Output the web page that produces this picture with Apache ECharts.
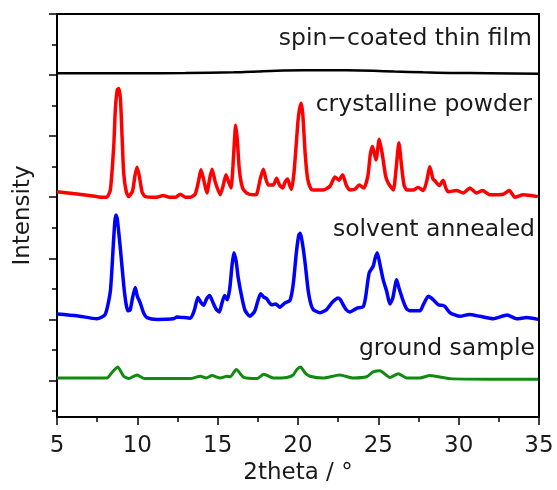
<!DOCTYPE html>
<html>
<head>
<meta charset="utf-8">
<script src="https://cdn.jsdelivr.net/npm/echarts@6/dist/echarts.min.js"></script>
<style>
html,body{margin:0;padding:0;background:#fff;}
#chart{width:557px;height:490px;}
</style>
</head>
<body>
<div id="chart"></div>
<script>
// Values (x: 2theta in degrees, y: offset intensity in arbitrary units)
const seriesNames = ['spin\u2212coated thin film', 'crystalline powder', 'solvent annealed', 'ground sample'];
const xTicks = [5, 10, 15, 20, 25, 30, 35];
const yMajorTicks = [0, 1, 2, 3, 4, 5, 6];
const yMinorTicks = [-0.5, 0.5, 1.5, 2.5, 3.5, 4.5, 5.5];

const thinFilm = [
  [5, 5.03], [10, 5.03], [13, 5.035], [16, 5.045], [17.5, 5.06], [19.1, 5.075], [21.6, 5.08],
  [23, 5.078], [24.7, 5.07], [26, 5.058], [27.8, 5.045], [29.5, 5.035], [31.9, 5.03], [35, 5.02]
];

const crystallinePowder = [
  [5, 3.09], [6, 3.06], [7, 3.03], [7.8, 3.0], [8.1, 3.0], [8.32, 3.12], [8.53, 3.83],
  [8.63, 4.43], [8.75, 4.76], [8.85, 4.78], [8.95, 4.6], [9.05, 4.0], [9.15, 3.4],
  [9.31, 3.09], [9.46, 3.01], [9.7, 3.1], [9.85, 3.35], [9.98, 3.49], [10.12, 3.35],
  [10.3, 3.08], [10.5, 3.01], [11.2, 3.0], [11.6, 3.03], [12.0, 3.0], [12.4, 3.0],
  [12.67, 3.05], [13.0, 3.0], [13.3, 3.0], [13.6, 3.05], [13.8, 3.25], [13.96, 3.45],
  [14.12, 3.3], [14.33, 3.07], [14.5, 3.3], [14.65, 3.46], [14.85, 3.25], [15.16, 3.04],
  [15.35, 3.2], [15.52, 3.37], [15.68, 3.25], [15.83, 3.15], [15.95, 3.5], [16.05, 3.95],
  [16.12, 4.18], [16.22, 3.95], [16.35, 3.45], [16.55, 3.15], [16.8, 3.07], [17.2, 3.04],
  [17.43, 3.05], [17.65, 3.3], [17.84, 3.46], [18.0, 3.3], [18.15, 3.2], [18.46, 3.2],
  [18.67, 3.31], [18.85, 3.2], [19.04, 3.15], [19.2, 3.25], [19.35, 3.3], [19.5, 3.18],
  [19.6, 3.13], [19.75, 3.4], [19.9, 3.9], [20.0, 4.25], [20.1, 4.45], [20.2, 4.54],
  [20.3, 4.35], [20.45, 3.7], [20.6, 3.3], [20.8, 3.14], [20.95, 3.12], [21.57, 3.12],
  [21.99, 3.18], [22.3, 3.33], [22.55, 3.28], [22.78, 3.37], [23.0, 3.2], [23.23, 3.12],
  [23.54, 3.13], [23.81, 3.2], [24.1, 3.15], [24.35, 3.35], [24.5, 3.7], [24.64, 3.83],
  [24.85, 3.61], [25.06, 3.95], [25.25, 3.7], [25.45, 3.35], [25.62, 3.23], [25.93, 3.12],
  [26.1, 3.45], [26.28, 3.89], [26.45, 3.5], [26.6, 3.2], [26.76, 3.12], [27.17, 3.12],
  [27.48, 3.16], [27.8, 3.11], [28.0, 3.25], [28.21, 3.5], [28.4, 3.3], [28.52, 3.27],
  [28.79, 3.19], [29.04, 3.28], [29.2, 3.15], [29.35, 3.09], [29.87, 3.11], [30.28, 3.07],
  [30.7, 3.15], [31.11, 3.07], [31.49, 3.11], [31.94, 3.04], [32.77, 3.05], [33.15, 3.11],
  [33.5, 3.0], [34.02, 3.04], [34.93, 3.01]
];

const solventAnnealed = [
  [5, 1.09], [6.24, 1.06], [7.49, 1.01], [8.0, 1.08], [8.32, 1.46], [8.5, 2.2], [8.6, 2.6],
  [8.67, 2.71], [8.75, 2.65], [8.94, 2.17], [9.15, 1.57], [9.3, 1.25], [9.42, 1.14],
  [9.55, 1.15], [9.7, 1.35], [9.87, 1.52], [10.0, 1.38], [10.18, 1.27], [10.4, 1.1],
  [10.6, 1.03], [11.22, 1.0], [12.26, 1.01], [12.47, 1.04], [13.3, 1.02], [13.55, 1.15],
  [13.77, 1.36], [13.95, 1.28], [14.13, 1.23], [14.3, 1.33], [14.5, 1.39], [14.7, 1.28],
  [14.9, 1.17], [15.1, 1.12], [15.25, 1.25], [15.43, 1.39], [15.6, 1.32], [15.75, 1.5],
  [15.9, 1.9], [16.01, 2.09], [16.15, 1.95], [16.28, 1.68], [16.49, 1.38], [16.7, 1.15],
  [17.0, 1.05], [17.3, 1.13], [17.5, 1.3], [17.67, 1.42], [17.85, 1.37], [18.04, 1.34],
  [18.2, 1.28], [18.35, 1.24], [18.62, 1.25], [18.87, 1.2], [19.19, 1.27], [19.5, 1.31],
  [19.7, 1.57], [19.9, 2.1], [20.05, 2.38], [20.15, 2.41], [20.3, 2.2], [20.43, 1.95],
  [20.64, 1.46], [20.8, 1.25], [20.95, 1.16], [21.37, 1.11], [21.78, 1.16], [22.1, 1.27],
  [22.3, 1.32], [22.5, 1.35], [22.65, 1.32], [22.81, 1.24], [23.0, 1.16], [23.23, 1.12],
  [23.65, 1.18], [24.06, 1.21], [24.2, 1.35], [24.43, 1.76], [24.68, 1.87], [24.8, 2.0],
  [24.93, 2.09], [25.1, 1.9], [25.3, 1.65], [25.52, 1.46], [25.72, 1.25], [25.9, 1.35],
  [26.14, 1.65], [26.3, 1.5], [26.55, 1.3], [26.75, 1.18], [26.97, 1.14], [27.59, 1.14],
  [27.8, 1.24], [28.11, 1.38], [28.3, 1.35], [28.42, 1.32], [28.73, 1.24], [29.0, 1.23],
  [29.15, 1.21], [29.46, 1.11], [30.08, 1.05], [30.66, 1.08], [31.32, 1.05], [32.15, 1.01],
  [33.02, 1.07], [33.6, 1.01], [34.23, 1.03], [34.95, 1.0]
];

const groundSample = [
  [5, 0.04], [8.11, 0.04], [8.42, 0.13], [8.78, 0.22], [9.15, 0.07], [9.46, 0.03],
  [9.98, 0.09], [10.44, 0.03], [13.3, 0.03], [13.92, 0.07], [14.29, 0.04], [14.65, 0.08],
  [15.16, 0.04], [15.58, 0.07], [15.78, 0.06], [16.16, 0.18], [16.62, 0.05], [17.45, 0.03],
  [17.87, 0.1], [18.49, 0.04], [19.3, 0.05], [19.7, 0.09], [19.93, 0.18], [20.16, 0.22],
  [20.45, 0.12], [20.74, 0.07], [21.57, 0.04], [22.6, 0.09], [23.44, 0.04], [24.27, 0.06],
  [24.68, 0.14], [25.1, 0.16], [25.72, 0.05], [26.24, 0.11], [26.76, 0.04], [27.59, 0.04],
  [28.21, 0.08], [29.46, 0.03], [31.94, 0.02], [34.95, 0.02]
];

const FONT = 'DejaVu Sans';
const TEXT = '#1a1a1a';

const chart = echarts.init(document.getElementById('chart'), null, {renderer: 'canvas'});

function lineSeries(name, data, color, width) {
  return {
    name: name, type: 'line', data: data, showSymbol: false, symbol: 'none',
    smooth: 0.2, lineStyle: {color: color, width: width}, z: 3, animation: false
  };
}

const labelStyle = {font: '23.5px "' + FONT + '"', fill: TEXT, textAlign: 'right', textVerticalAlign: 'middle'};

const option = {
  animation: false,
  grid: {left: 57, top: 14, right: 18, bottom: 72, show: true, borderColor: '#000', borderWidth: 2, backgroundColor: 'transparent'},
  xAxis: {
    type: 'value', min: 5, max: 35, interval: 5,
    name: '2theta / \u00b0', nameLocation: 'middle', nameGap: 37,
    nameTextStyle: {fontFamily: FONT, fontSize: 23, color: TEXT},
    axisLine: {show: true, onZero: false, lineStyle: {color: '#000', width: 2}},
    axisTick: {show: true, inside: false, length: 8, lineStyle: {color: '#000', width: 1.5}, customValues: xTicks},
    minorTick: {show: true, splitNumber: 2, length: 5, lineStyle: {color: '#000', width: 1.5}},
    axisLabel: {fontFamily: FONT, fontSize: 23, color: TEXT, margin: 17, customValues: xTicks},
    splitLine: {show: false}, minorSplitLine: {show: false}
  },
  yAxis: [{
    type: 'value', min: -0.6, max: 6,
    name: 'Intensity', nameLocation: 'middle', nameGap: 22,
    nameTextStyle: {fontFamily: FONT, fontSize: 23, color: TEXT},
    axisLine: {show: true, onZero: false, lineStyle: {color: '#000', width: 2}},
    axisTick: {show: true, inside: false, length: 8, lineStyle: {color: '#000', width: 1.5}, customValues: yMajorTicks},
    axisLabel: {show: false},
    splitLine: {show: false}
  }, {
    type: 'value', min: -0.6, max: 6, position: 'left',
    axisLine: {show: false},
    axisTick: {show: true, inside: false, length: 5, lineStyle: {color: '#000', width: 1.5}, customValues: yMinorTicks},
    axisLabel: {show: false},
    splitLine: {show: false}
  }],
  series: [
    lineSeries(seriesNames[0], thinFilm, '#000000', 2.5),
    lineSeries(seriesNames[1], crystallinePowder, '#ff0000', 3.5),
    lineSeries(seriesNames[2], solventAnnealed, '#0000ff', 3.5),
    lineSeries(seriesNames[3], groundSample, '#108a10', 3)
  ],
  graphic: [
    {type: 'text', right: 25, top: 27, style: Object.assign({text: seriesNames[0]}, labelStyle)},
    {type: 'text', right: 25, top: 93, style: Object.assign({text: seriesNames[1]}, labelStyle)},
    {type: 'text', right: 22, top: 218, style: Object.assign({text: seriesNames[2]}, labelStyle)},
    {type: 'text', right: 22, top: 337, style: Object.assign({text: seriesNames[3]}, labelStyle)}
  ]
};
chart.setOption(option);
</script>
</body>
</html>
